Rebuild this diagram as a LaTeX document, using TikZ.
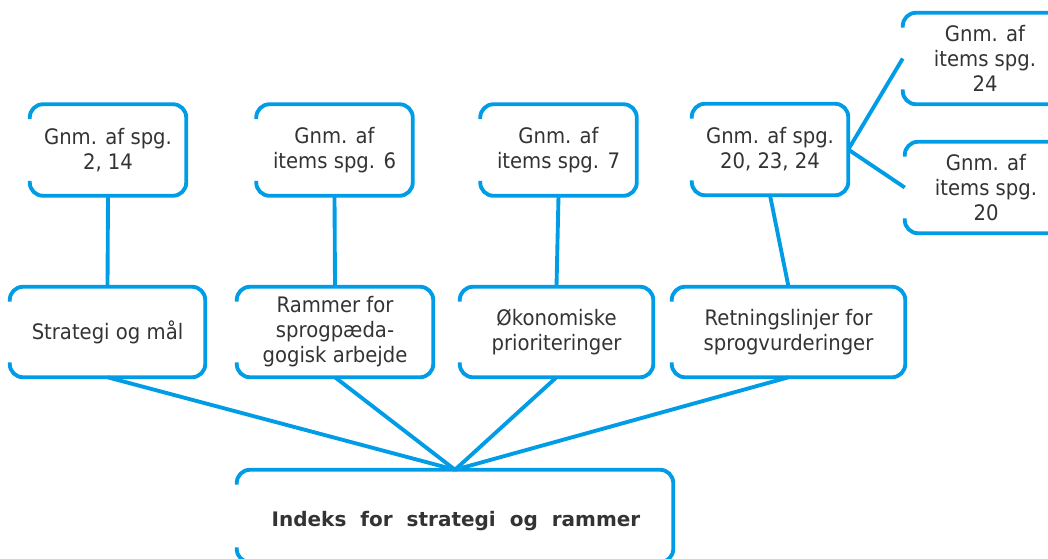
\documentclass[tikz,border=0pt]{standalone}
\usepackage{fontspec}
\setmainfont{DejaVu Sans}
\newfontfamily\boxfont[FakeStretch=0.92]{DejaVu Sans}
\usetikzlibrary{calc}
\definecolor{bblue}{RGB}{0,157,230}
\definecolor{tgray}{RGB}{51,51,51}
\tikzset{
  boxline/.style={draw=bblue, line width=2.9pt, rounded corners=10pt},
  conn/.style={draw=bblue, line width=2.9pt},
  box/.style={draw=none, inner sep=0pt, align=center, text=tgray,
    font=\boxfont\fontsize{16pt}{18.75pt}\selectfont, minimum height=68.25pt},
}
\newcommand\openbox[1]{\draw[boxline] ($(#1.north west)+(0,15)$) -- (#1.north west) -- (#1.north east) -- (#1.south east) -- (#1.south west) -- ($(#1.south west)+(0,-15)$);}
\begin{document}
\begin{tikzpicture}[x=0.75pt,y=-0.75pt]
\useasboundingbox (0,0) rectangle (1048,558);
\clip (0,0) rectangle (1048,558);
% top row
\node[box, minimum width=117pt] (a1) at (108,150) {Gnm. af spg.\\2, 14};
\node[box, minimum width=117pt] (a2) at (334.5,150) {Gnm. af\\items spg. 6};
\node[box, minimum width=117pt] (a3) at (558.5,150) {Gnm. af\\items spg. 7};
\node[box, minimum width=117pt] (a4) at (770,149.5) {Gnm. af spg.\\20, 23, 24};
% right column
\node[box, minimum width=123pt] (c1) at (985,58.5) {Gnm. af\\items spg.\\24};
\node[box, minimum width=121.5pt] (c2) at (986,187.5) {Gnm. af\\items spg.\\20};
% second row
\node[box, minimum width=146.25pt, minimum height=67.5pt] (b1) at (107.5,332) {Strategi og mål};
\node[box, minimum width=147pt, minimum height=67.5pt] (b2) at (335,332) {Rammer for\\sprogpæda-\\gogisk arbejde};
\node[box, minimum width=144.75pt, minimum height=67.5pt] (b3) at (556.5,332) {Økonomiske\\prioriteringer};
\node[box, minimum width=174.75pt, minimum height=67.5pt] (b4) at (788.5,332) {Retningslinjer for\\sprogvurderinger};
% bottom
\node[draw=none, inner sep=0pt, minimum width=327pt, minimum height=69pt] (idx) at (455,516) {};
\node[inner sep=0pt, text=tgray, font=\fontsize{15pt}{18pt}\selectfont\bfseries] (idxt) at (456,521)
  {Indeks\hspace{10.5pt}for\hspace{10.5pt}strategi\hspace{10.5pt}og\hspace{10.5pt}rammer};
% connectors
\draw[conn] (a1.south) -- (b1.north);
\draw[conn] (a2.south) -- (b2.north);
\draw[conn] (a3.south) -- (b3.north);
\draw[conn] (a4.south) -- (b4.north);
\draw[conn] (a4.east) -- (c1.west);
\draw[conn] (a4.east) -- (c2.west);
\draw[conn] (b1.south) -- (idx.north);
\draw[conn] (b2.south) -- (idx.north);
\draw[conn] (b3.south) -- (idx.north);
\draw[conn] (b4.south) -- (idx.north);
% boxes
\openbox{a1}\openbox{a2}\openbox{a3}\openbox{a4}
\openbox{c1}\openbox{c2}
\openbox{b1}\openbox{b2}\openbox{b3}\openbox{b4}
\openbox{idx}
\end{tikzpicture}
\end{document}
